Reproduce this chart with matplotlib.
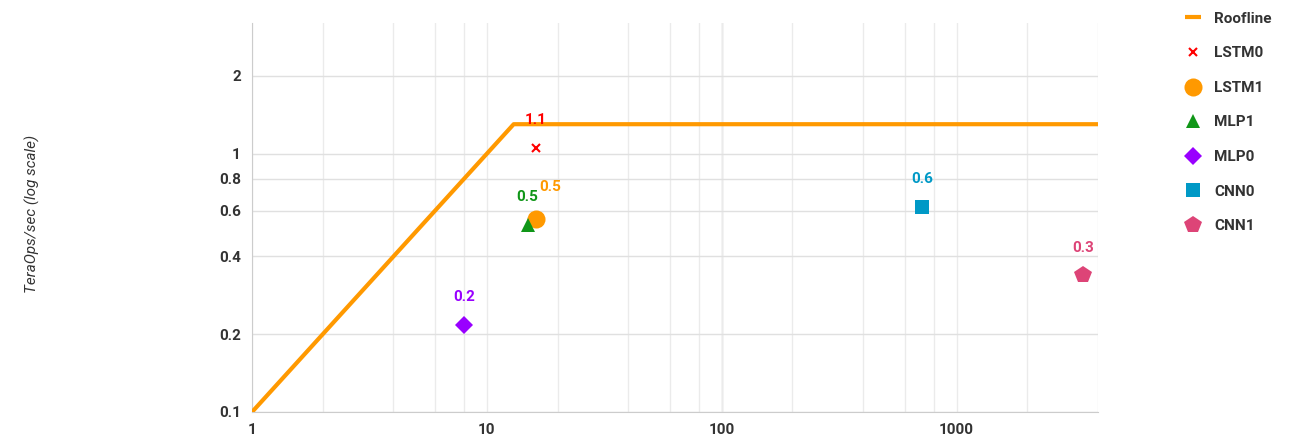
import matplotlib.pyplot as plt
from matplotlib.ticker import FixedLocator, NullFormatter

# data
roof_x = [1, 13, 4000]
roof_y = [0.1, 1.3, 1.3]

names = ["LSTM0", "LSTM1", "MLP1", "MLP0", "CNN0", "CNN1"]
intensity = [16.2, 16.2, 14.9, 8.0, 710, 3440]
teraops = [1.055, 0.56, 0.53, 0.217, 0.62, 0.338]
point_labels = ["1.1", "0.5", "0.5", "0.2", "0.6", "0.3"]

colors = ["#ff0000", "#ff9900", "#109618", "#9900ff", "#0099c6", "#dd4477"]
markers = ["x", "o", "^", "D", "s", "p"]
sizes = [6, 13, 10, 9, 10, 13]

plt.rcParams["font.family"] = ["Roboto", "DejaVu Sans"]

fig = plt.figure(figsize=(13.1, 4.45), dpi=100)
ax = fig.add_axes([0.1924, 0.0742, 0.6458, 0.8738])
ax.set_xscale("log")
ax.set_yscale("log")
ax.set_xlim(1, 4000)
ax.set_ylim(0.1, 3.2)

ax.plot(roof_x, roof_y, color="#ff9900", lw=3, label="Roofline", zorder=3,
        solid_capstyle="butt")

for n, x, y, c, m, s, lab in zip(names, intensity, teraops, colors, markers,
                                 sizes, point_labels):
    kw = dict(mew=1.5) if m == "x" else dict(mew=0)
    ax.plot([x], [y], ls="none", marker=m, color=c, ms=s, label=n, zorder=4, **kw)
    # the orange label sits up and right of the green one, as in the source
    off = (10, 23) if n == "LSTM1" else (0, 20)
    ax.annotate(lab, (x, y), xytext=off, textcoords="offset points",
                ha="center", va="center", color=c, fontsize=11,
                fontweight="bold", zorder=5 if n != "LSTM1" else 4.5)

# ticks and grid
ax.xaxis.set_major_locator(FixedLocator([1, 10, 100, 1000]))
ax.xaxis.set_minor_locator(FixedLocator([k * 10 ** d for d in range(4)
                                         for k in (2, 4, 6, 8)]))
ax.xaxis.set_minor_formatter(NullFormatter())
ax.set_xticklabels(["1", "10", "100", "1000"])
yt = [0.1, 0.2, 0.4, 0.6, 0.8, 1, 2]
ax.yaxis.set_major_locator(FixedLocator(yt))
ax.yaxis.set_minor_locator(FixedLocator([]))
ax.set_yticklabels(["0.1", "0.2", "0.4", "0.6", "0.8", "1", "2"])

ax.grid(True, which="both", axis="x", color="#ebebeb", lw=1)
ax.grid(True, which="major", axis="y", color="#e0e0e0", lw=1)
ax.axvline(100, color="#cccccc", lw=1, zorder=0.5)
ax.set_axisbelow(True)
ax.tick_params(which="both", length=0)
ax.tick_params(axis="both", labelsize=11, labelcolor="#333333", pad=8)
for lbl in ax.get_xticklabels() + ax.get_yticklabels():
    lbl.set_fontweight("bold")

for side in ("top", "right"):
    ax.spines[side].set_visible(False)
for side in ("left", "bottom"):
    ax.spines[side].set_color("#cccccc")

fig.text(0.025, 0.52, "TeraOps/sec (log scale)", rotation=90, ha="center",
         va="center", fontsize=11, style="italic", color="#333333")

leg = ax.legend(loc="upper left", bbox_to_anchor=(1.087, 1.065), frameon=False,
                labelspacing=1.35, handlelength=1.0, handletextpad=0.9,
                prop={"size": 11, "weight": "bold"})
for t in leg.get_texts():
    t.set_color("#333333")

fig.savefig("out.png", dpi=100)
